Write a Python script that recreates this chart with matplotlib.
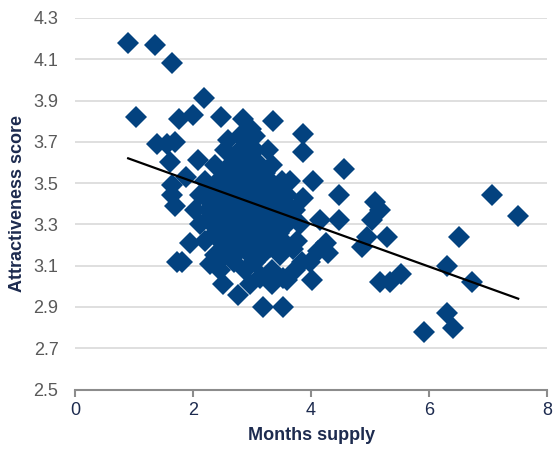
import matplotlib
matplotlib.use("Agg")
import matplotlib.pyplot as plt

# Months supply (x) and attractiveness score (y)
outlier_x = [0.90, 1.35, 1.64, 1.03, 1.76, 2.00, 2.18, 2.47, 2.84, 2.99, 3.35, 3.86, 3.86,
             1.39, 1.56, 1.69, 1.61, 2.08, 1.88, 1.64, 1.64, 1.69, 1.73, 1.95, 1.81,
             4.55, 4.03, 4.47, 5.09, 5.16, 5.04, 4.48, 4.15, 3.86, 3.64, 4.94, 4.87, 5.28,
             4.26, 4.11, 4.28, 3.98, 4.01, 3.59, 3.52, 5.16, 5.33, 5.53, 6.31, 6.51, 6.73,
             7.07, 7.50, 6.31, 6.40, 5.92, 2.50, 2.76, 3.18, 2.28, 2.74, 3.13, 3.52, 3.30,
             3.69, 3.84, 2.59]
outlier_y = [4.18, 4.17, 4.08, 3.82, 3.81, 3.83, 3.91, 3.82, 3.81, 3.76, 3.80, 3.74, 3.65,
             3.69, 3.69, 3.70, 3.60, 3.61, 3.53, 3.49, 3.44, 3.39, 3.12, 3.21, 3.12,
             3.57, 3.51, 3.44, 3.41, 3.37, 3.32, 3.32, 3.32, 3.43, 3.51, 3.24, 3.19, 3.24,
             3.21, 3.17, 3.16, 3.12, 3.03, 3.03, 2.90, 3.02, 3.02, 3.06, 3.10, 3.24, 3.02,
             3.44, 3.34, 2.87, 2.80, 2.78, 3.01, 2.96, 2.90, 3.11, 3.16, 3.04, 3.04, 3.19,
             3.18, 3.12, 3.71]

cluster_x = [2.79, 3.05,
             2.54, 2.79, 3.05, 3.27,
             2.37, 2.62, 2.88, 3.13, 3.33,
             2.20, 2.42, 2.66, 2.88, 3.10, 3.30, 3.50,
             2.12, 2.32, 2.54, 2.76, 2.96, 3.16, 3.38, 3.60,
             2.03, 2.25, 2.45, 2.67, 2.88, 3.10, 3.30, 3.52, 3.72,
             2.12, 2.32, 2.54, 2.76, 2.96, 3.16, 3.38, 3.60, 3.81,
             2.20, 2.45, 2.66, 2.88, 3.10, 3.30, 3.52, 3.76,
             2.37, 2.54, 2.96, 3.16, 3.47,
             2.45, 2.88, 3.33, 3.72,
             2.96, 3.33]
cluster_y = [3.73, 3.73,
             3.66, 3.66, 3.66, 3.66,
             3.59, 3.59, 3.59, 3.59, 3.59,
             3.51, 3.51, 3.51, 3.51, 3.51, 3.51, 3.51,
             3.44, 3.44, 3.44, 3.44, 3.44, 3.44, 3.44, 3.44,
             3.37, 3.37, 3.37, 3.37, 3.37, 3.37, 3.37, 3.37, 3.37,
             3.30, 3.30, 3.30, 3.30, 3.30, 3.30, 3.30, 3.30, 3.30,
             3.22, 3.22, 3.22, 3.22, 3.22, 3.22, 3.22, 3.22,
             3.15, 3.15, 3.15, 3.15, 3.15,
             3.08, 3.08, 3.08, 3.08,
             3.01, 3.01]

fill_x = [2.92,
          2.70, 2.96,
          2.54, 2.77, 3.00, 3.22,
          2.37, 2.60, 2.82, 3.03, 3.24, 3.45,
          2.28, 2.50, 2.72, 2.92, 3.13, 3.34, 3.56,
          2.28, 2.50, 2.72, 2.92, 3.13, 3.34, 3.56,
          2.38, 2.60, 2.82, 3.03, 3.24, 3.45,
          2.55, 2.78, 3.00, 3.22, 3.42,
          2.70, 3.05,
          3.15]
fill_y = [3.70,
          3.62, 3.62,
          3.55, 3.55, 3.55, 3.55,
          3.48, 3.48, 3.48, 3.48, 3.48, 3.48,
          3.41, 3.41, 3.41, 3.41, 3.41, 3.41, 3.41,
          3.33, 3.33, 3.33, 3.33, 3.33, 3.33, 3.33,
          3.26, 3.26, 3.26, 3.26, 3.26, 3.26,
          3.19, 3.19, 3.19, 3.19, 3.19,
          3.12, 3.12,
          3.05]

trend_x = [0.90, 7.51]
trend_y = [3.62, 2.94]

x_ticks = [0, 2, 4, 6, 8]
y_ticks = [2.5, 2.7, 2.9, 3.1, 3.3, 3.5, 3.7, 3.9, 4.1, 4.3]

plt.rcParams['font.family'] = ['Liberation Sans', 'DejaVu Sans']
navy = '#1d2b4f'
marker_color = '#03427f'

fig = plt.figure(figsize=(5.56, 4.49), dpi=100)
ax = fig.add_axes([0.135, 0.1325, 0.849, 0.8275])

all_x = outlier_x + cluster_x + fill_x
all_y = outlier_y + cluster_y + fill_y
ax.plot(all_x, all_y, linestyle='none', marker='D',
        markersize=11.3, color=marker_color, markeredgewidth=0, zorder=2)
ax.plot(trend_x, trend_y, color='black', linewidth=1.6, zorder=3)

ax.set_xlim(0, 8)
ax.set_ylim(2.5, 4.3)
ax.set_xticks(x_ticks)
ax.set_yticks(y_ticks)
ax.set_xticklabels([str(v) for v in x_ticks])
ax.set_yticklabels([f"{v:.1f}" for v in y_ticks])

ax.grid(axis='y', color='#d9d9d9', linewidth=1.2, zorder=0)
ax.set_axisbelow(True)
for s in ['top', 'right', 'left']:
    ax.spines[s].set_visible(False)
ax.spines['bottom'].set_color('#8c8c8c')
ax.spines['bottom'].set_linewidth(1.5)
ax.spines['bottom'].set_zorder(1)

ax.tick_params(axis='y', length=0, pad=12, labelsize=13, labelcolor='#595959')
ax.tick_params(axis='x', length=5, width=1.5, color='#8c8c8c', pad=4,
               labelsize=13, labelcolor=navy)

ax.set_xlabel('Months supply', fontsize=13, fontweight='bold', color=navy, labelpad=6)
ax.set_ylabel('Attractiveness score', fontsize=13, fontweight='bold', color=navy, labelpad=5)

fig.savefig('out.png', dpi=100)
